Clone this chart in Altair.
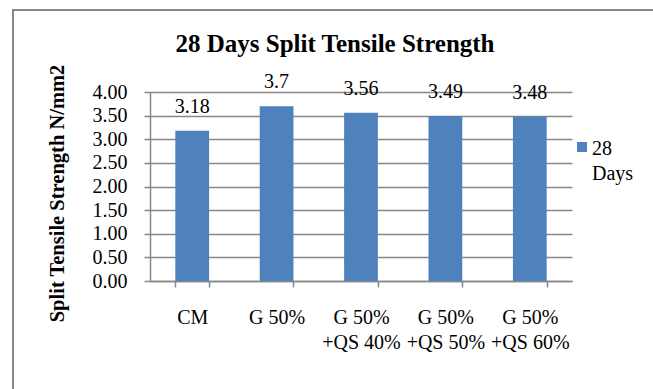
import altair as alt
import pandas as pd

# Mix designs (line breaks mark where the axis labels wrap)
categories = ["CM", "G 50%", "G 50%\n+QS 40%", "G 50%\n+QS 50%", "G 50%\n+QS 60%"]
strength_28d = [3.18, 3.7, 3.56, 3.49, 3.48]
value_labels = ["3.18", "3.7", "3.56", "3.49", "3.48"]
series_name = "28 Days"
y_ticks = [0.0, 0.5, 1.0, 1.5, 2.0, 2.5, 3.0, 3.5, 4.0]

df = pd.DataFrame({
    "mix": categories,
    "strength": strength_28d,
    "label": value_labels,
    "series": [series_name] * len(categories),
})

SERIF = "Liberation Serif"
GRAY = "#878787"
BLUE = "#4F81BD"

# square legend swatch drawn slightly below the entry centre so it sits beside the first label line
SWATCH = "M-1,0.6H1V2.6H-1Z"

x_scale = alt.Scale(paddingInner=0.6, paddingOuter=0.3)
y_scale = alt.Scale(domain=[0, 4], nice=False, zero=True)

x_axis = alt.Axis(
    title=None,
    labelAngle=0,
    labelExpr="split(datum.label, '\\n')",
    labelFont=SERIF,
    labelFontSize=20,
    labelColor="black",
    labelLineHeight=25,
    labelPadding=20,
    tickBand="extent",
    tickSize=6,
    tickColor=GRAY,
    tickWidth=1.5,
    domainColor=GRAY,
    domainWidth=1.5,
    grid=False,
)

y_axis = alt.Axis(
    values=y_ticks,
    format=".2f",
    labelOverlap=False,
    title="Split Tensile Strength N/mm2",
    titleFont=SERIF,
    titleFontSize=20.5,
    titleFontWeight="bold",
    titleColor="black",
    titleAngle=270,
    titleAlign="center",
    titleBaseline="middle",
    titleX=-93,
    titleY=101,
    labelFont=SERIF,
    labelFontSize=20,
    labelColor="black",
    labelPadding=17,
    tickSize=6,
    tickColor=GRAY,
    tickWidth=1.5,
    domainColor=GRAY,
    domainWidth=1.5,
    gridColor=GRAY,
    gridWidth=1.5,
)

x_enc = alt.X("mix:N", sort=categories, scale=x_scale, axis=x_axis)
y_enc = alt.Y("strength:Q", scale=y_scale, axis=y_axis)

bars = alt.Chart(df).mark_bar(color=BLUE).encode(
    x=x_enc,
    y=y_enc,
    color=alt.Color(
        "series:N",
        scale=alt.Scale(domain=[series_name], range=[BLUE]),
        legend=alt.Legend(
            title=None,
            orient="none",
            legendX=422,
            legendY=37,
            symbolType=SWATCH,
            symbolSize=100,
            symbolStrokeWidth=0,
            labelFont=SERIF,
            labelFontSize=20,
            labelColor="black",
            labelBaseline="top",
            labelExpr="split(datum.label, ' ')",
            labelOffset=0,
            padding=0,
        ),
    ),
)

labels = alt.Chart(df).mark_text(
    font=SERIF, fontSize=20, color="black", baseline="alphabetic", dy=-18
).encode(
    x=x_enc,
    y=y_enc,
    text="label:N",
)

# Outer chart border
frame = alt.Chart(alt.Data(values=[{}])).mark_rect(
    filled=False, stroke=GRAY, strokeWidth=2
).encode(
    x=alt.value(-137), x2=alt.value(600), y=alt.value(-82), y2=alt.value(400)
)

chart = alt.layer(frame, bars, labels).properties(
    width=422,
    height=189,
    padding={"left": 150, "top": 92, "right": 81, "bottom": 108},
    autosize=alt.AutoSizeParams(type="none"),
    title=alt.TitleParams(
        "28 Days Split Tensile Strength",
        font=SERIF,
        fontSize=25,
        fontWeight="bold",
        color="black",
        anchor="middle",
        frame="group",
        offset=0,
        dx=-26,
        dy=48,
    ),
).configure(
    background="white",
    style={"guide-label": {"lineHeight": 25}},
).configure_view(stroke="transparent")

chart.save("out.html", embed_options={"renderer": "svg", "actions": False})
